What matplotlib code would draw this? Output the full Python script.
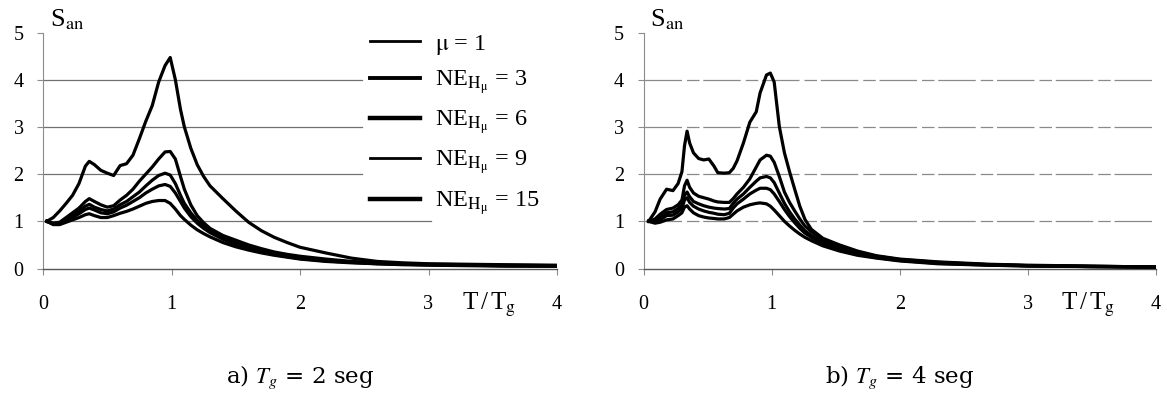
import matplotlib
matplotlib.use("Agg")
import matplotlib.pyplot as plt
import numpy as np

plt.rcParams['mathtext.fontset'] = 'stix'
plt.rcParams['font.family'] = ['Liberation Serif', 'DejaVu Serif']

# ---------------- data ----------------
labels = [r"$\mathrm{\mu}$ = 1", r"NE$_{\mathrm{H}_{\mathrm{\mu}}}$ = 3", r"NE$_{\mathrm{H}_{\mathrm{\mu}}}$ = 6",
          r"NE$_{\mathrm{H}_{\mathrm{\mu}}}$ = 9", r"NE$_{\mathrm{H}_{\mathrm{\mu}}}$ = 15"]
legend_widths = [2.0, 2.8, 3.2, 2.0, 3.2]
captions = [r"a) $T_g$ = 2 seg", r"b) $T_g$ = 4 seg"]
xticks = [0, 1, 2, 3, 4]
yticks = [0, 1, 2, 3, 4, 5]
grid_levels = [1, 2, 3, 4]

# panel a) Tg = 2 s
xa = [0.03, 0.08, 0.13, 0.18, 0.23, 0.28, 0.33, 0.36, 0.40, 0.45, 0.50, 0.55, 0.60, 0.65, 0.70,
      0.75, 0.80, 0.85, 0.90, 0.95, 0.99, 1.03, 1.07, 1.10, 1.15, 1.20, 1.25, 1.30, 1.40, 1.50,
      1.60, 1.70, 1.80, 1.90, 2.00, 2.20, 2.40, 2.60, 2.80, 3.00, 3.30, 3.60, 4.00]
a_mu1 = [1.00, 1.08, 1.22, 1.38, 1.55, 1.80, 2.17, 2.27, 2.20, 2.08, 2.02, 1.97, 2.18, 2.22, 2.40,
         2.75, 3.12, 3.45, 3.95, 4.30, 4.47, 4.00, 3.37, 3.00, 2.55, 2.20, 1.95, 1.75, 1.48, 1.22,
         0.98, 0.80, 0.66, 0.55, 0.45, 0.33, 0.22, 0.15, 0.12, 0.10, 0.09, 0.08, 0.07]
a_ne3 = [1.00, 0.96, 0.98, 1.08, 1.18, 1.28, 1.42, 1.48, 1.42, 1.35, 1.30, 1.33, 1.45, 1.55, 1.68,
         1.85, 2.00, 2.15, 2.32, 2.47, 2.48, 2.32, 1.95, 1.68, 1.35, 1.12, 0.97, 0.85, 0.70, 0.60,
         0.50, 0.42, 0.35, 0.30, 0.26, 0.20, 0.15, 0.12, 0.10, 0.09, 0.08, 0.07, 0.06]
a_ne6 = [1.00, 0.95, 0.96, 1.04, 1.12, 1.22, 1.32, 1.36, 1.30, 1.25, 1.22, 1.26, 1.35, 1.42, 1.52,
         1.62, 1.75, 1.87, 1.97, 2.02, 1.98, 1.80, 1.55, 1.38, 1.18, 1.02, 0.90, 0.80, 0.66, 0.55,
         0.46, 0.38, 0.32, 0.27, 0.23, 0.18, 0.14, 0.11, 0.09, 0.08, 0.07, 0.06, 0.05]
a_ne9 = [1.00, 0.94, 0.95, 1.02, 1.08, 1.16, 1.25, 1.28, 1.24, 1.18, 1.16, 1.20, 1.28, 1.34, 1.42,
         1.50, 1.60, 1.68, 1.75, 1.78, 1.74, 1.60, 1.42, 1.28, 1.10, 0.96, 0.85, 0.76, 0.62, 0.51,
         0.43, 0.36, 0.30, 0.25, 0.21, 0.16, 0.13, 0.10, 0.09, 0.08, 0.07, 0.06, 0.05]
a_ne15 = [1.00, 0.93, 0.93, 0.98, 1.03, 1.08, 1.14, 1.16, 1.12, 1.08, 1.08, 1.12, 1.17, 1.21, 1.26,
          1.32, 1.38, 1.42, 1.44, 1.44, 1.38, 1.26, 1.12, 1.04, 0.92, 0.82, 0.74, 0.67, 0.55, 0.46,
          0.39, 0.33, 0.28, 0.24, 0.20, 0.15, 0.12, 0.10, 0.08, 0.07, 0.06, 0.05, 0.05]

# panel b) Tg = 4 s
xb = [0.04, 0.09, 0.13, 0.18, 0.23, 0.27, 0.30, 0.32, 0.34, 0.36, 0.39, 0.43, 0.47, 0.51, 0.55,
      0.58, 0.63, 0.67, 0.70, 0.73, 0.78, 0.83, 0.88, 0.91, 0.96, 0.99, 1.02, 1.06, 1.10, 1.14,
      1.18, 1.22, 1.26, 1.31, 1.40, 1.53, 1.67, 1.82, 2.00, 2.30, 2.70, 3.00, 3.50, 4.00]
b_mu1 = [1.00, 1.20, 1.47, 1.68, 1.65, 1.80, 2.05, 2.60, 2.91, 2.66, 2.45, 2.33, 2.30, 2.32, 2.17,
         2.03, 2.02, 2.03, 2.12, 2.28, 2.66, 3.10, 3.32, 3.72, 4.10, 4.14, 3.95, 3.01, 2.45, 2.05,
         1.68, 1.32, 1.04, 0.83, 0.64, 0.50, 0.37, 0.27, 0.20, 0.14, 0.09, 0.07, 0.05, 0.03]
b_ne3 = [1.00, 1.05, 1.15, 1.25, 1.28, 1.35, 1.45, 1.75, 1.87, 1.72, 1.60, 1.53, 1.50, 1.47, 1.43,
         1.41, 1.40, 1.40, 1.48, 1.58, 1.72, 1.90, 2.15, 2.30, 2.40, 2.38, 2.25, 1.95, 1.62, 1.40,
         1.22, 1.05, 0.90, 0.78, 0.60, 0.45, 0.33, 0.26, 0.19, 0.13, 0.08, 0.06, 0.05, 0.03]
b_ne6 = [1.00, 1.00, 1.08, 1.18, 1.20, 1.27, 1.35, 1.55, 1.62, 1.52, 1.42, 1.37, 1.33, 1.30, 1.28,
         1.27, 1.26, 1.27, 1.38, 1.47, 1.58, 1.72, 1.85, 1.92, 1.95, 1.92, 1.82, 1.60, 1.38, 1.20,
         1.05, 0.92, 0.80, 0.70, 0.55, 0.41, 0.31, 0.24, 0.18, 0.12, 0.08, 0.06, 0.04, 0.03]
b_ne9 = [1.00, 0.98, 1.03, 1.12, 1.13, 1.20, 1.27, 1.45, 1.50, 1.40, 1.32, 1.26, 1.22, 1.19, 1.17,
         1.15, 1.14, 1.17, 1.28, 1.37, 1.47, 1.58, 1.66, 1.70, 1.70, 1.67, 1.58, 1.42, 1.25, 1.10,
         0.97, 0.85, 0.75, 0.66, 0.52, 0.39, 0.30, 0.23, 0.17, 0.11, 0.07, 0.06, 0.04, 0.03]
b_ne15 = [1.00, 0.96, 0.98, 1.03, 1.05, 1.12, 1.18, 1.30, 1.33, 1.26, 1.18, 1.12, 1.09, 1.07, 1.06,
          1.05, 1.05, 1.08, 1.15, 1.22, 1.30, 1.35, 1.38, 1.39, 1.37, 1.32, 1.24, 1.12, 1.00, 0.90,
          0.81, 0.73, 0.66, 0.59, 0.48, 0.37, 0.28, 0.22, 0.16, 0.10, 0.07, 0.05, 0.04, 0.03]

panels = [
    (xa, [a_mu1, a_ne3, a_ne6, a_ne9, a_ne15]),
    (xb, [b_mu1, b_ne3, b_ne6, b_ne9, b_ne15]),
]

# ---------------- figure ----------------
fig = plt.figure(figsize=(11.67, 3.93), dpi=100)
W, H = 1167, 393
ax_boxes = [
    (43 / W, 1 - 268.5 / H, 514 / W, (268.5 - 32.5) / H),
    (643.5 / W, 1 - 268.5 / H, 512.5 / W, (268.5 - 32.5) / H),
]
gray = "#8c8c8c"

for i, ((xs, series), box) in enumerate(zip(panels, ax_boxes)):
    ax = fig.add_axes(box)
    ax.set_xlim(0, 4)
    ax.set_ylim(0, 5)
    for s in ("top", "right"):
        ax.spines[s].set_visible(False)
    ax.spines["left"].set_color(gray)
    ax.spines["left"].set_linewidth(0.8)
    ax.spines["bottom"].set_color("#555555")
    ax.spines["bottom"].set_linewidth(1.0)
    ax.set_xticks(xticks)
    ax.set_yticks(yticks)
    ax.tick_params(axis="x", direction="out", length=4, width=0.8, color=gray, pad=15, labelsize=14.5)
    ax.tick_params(axis="y", direction="out", length=4, width=0.8, color=gray, pad=10, labelsize=14.5)
    ax.set_xticklabels([str(t) for t in xticks])
    ax.set_yticklabels([str(t) for t in yticks])

    # gridlines
    for lvl in grid_levels:
        if i == 0:
            xmax = 0.62 if lvl > 1 else 0.755
            ax.axhline(lvl, xmin=0, xmax=xmax, color="#707070", lw=0.9, zorder=1)
        else:
            ax.axhline(lvl, color="#8a8a8a", lw=0.9, ls=(0, (30, 4, 10, 3)), zorder=1)

    for ys in series:
        ax.plot(xs, ys, color="black", lw=2.3, solid_joinstyle="round", zorder=3)

    ax.text(0.013, 1.0, r"S$_{\mathrm{an}}$", transform=ax.transAxes, fontsize=19,
            ha="left", va="bottom")
    ax.text(3.26, -0.78, r"T$\,$/$\,$T$_{\mathrm{g}}$", fontsize=18, ha="left", va="center")

    if i == 0:
        handles = [plt.Line2D([], [], color="black", lw=lw) for lw in legend_widths]
        ax.legend(handles, labels, loc="upper left", bbox_to_anchor=(0.636, 1.0),
                  frameon=False, fontsize=17.5, handlelength=2.05, handletextpad=0.62,
                  labelspacing=0.5, borderpad=0, borderaxespad=0)

    fig.text(box[0] + box[2] / 2, 1 - 377 / H, captions[i], fontsize=16.5, ha="center", va="center",
             family=["DejaVu Serif"])

fig.savefig("out.png", dpi=100)
